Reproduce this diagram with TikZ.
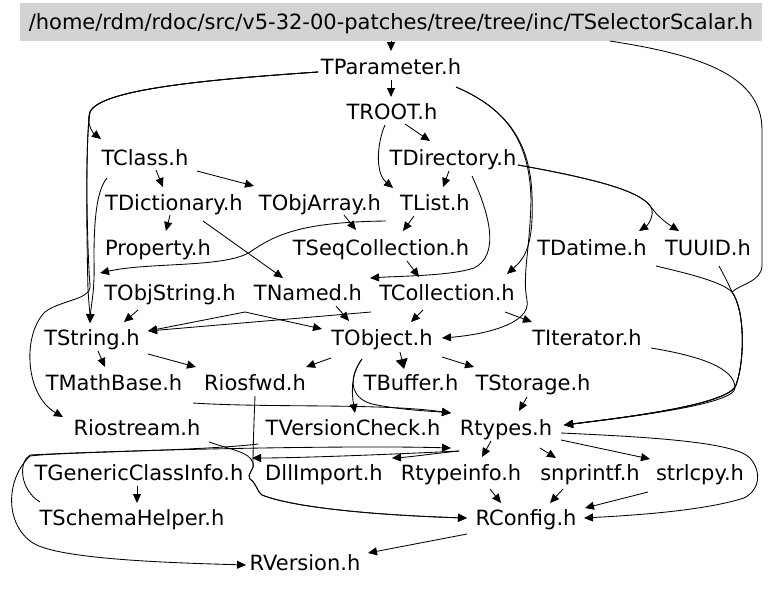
\documentclass[tikz,border=0pt]{standalone}
\usepackage{fontspec}
\setmainfont{DejaVu Sans}
\usetikzlibrary{arrows.meta}
\definecolor{hdrgray}{RGB}{211,211,211}
\begin{document}
\begin{tikzpicture}[x=1pt,y=-1pt,
  font=\fontsize{21}{24}\selectfont,
  lbl/.style={inner sep=0pt, text height=15pt, text depth=0pt},
  edge/.style={draw, line width=0.85pt, -{Triangle[length=9pt,width=8pt]}},
  bigedge/.style={draw, line width=0.85pt, -{Triangle[length=10pt,width=12pt]}},
  plain/.style={draw, line width=0.85pt}]
\fill[white] (0,0) rectangle (768,590);
\useasboundingbox (0,0) rectangle (768,590);
% nodes
\node[lbl, fill=hdrgray, minimum width=742pt, minimum height=38pt] (title) at (391,22) {/home/rdm/rdoc/src/v5-32-00-patches/tree/tree/inc/TSelectorScalar.h};
\node[lbl] (tparam) at (391,67) {TParameter.h};
\node[lbl] (troot) at (392,112) {TROOT.h};
\node[lbl] (tdir) at (453,158) {TDirectory.h};
\node[lbl] (tclass) at (145,158) {TClass.h};
\node[lbl] (tdict) at (174,203) {TDictionary.h};
\node[lbl] (tobjarray) at (320,203) {TObjArray.h};
\node[lbl] (tlist) at (435,203) {TList.h};
\node[lbl] (property) at (158,248) {Property.h};
\node[lbl] (tseq) at (381,248) {TSeqCollection.h};
\node[lbl] (tdatime) at (592,248) {TDatime.h};
\node[lbl] (tuuid) at (708,248) {TUUID.h};
\node[lbl] (tobjstring) at (170,293) {TObjString.h};
\node[lbl] (tnamed) at (308,293) {TNamed.h};
\node[lbl] (tcoll) at (447,293) {TCollection.h};
\node[lbl] (tstring) at (92,338) {TString.h};
\node[lbl] (tobject) at (382,338) {TObject.h};
\node[lbl] (titer) at (587,338) {TIterator.h};
\node[lbl] (tmath) at (114,383) {TMathBase.h};
\node[lbl] (riosfwd) at (255,383) {Riosfwd.h};
\node[lbl] (tbuffer) at (411,383) {TBuffer.h};
\node[lbl] (tstorage) at (533,383) {TStorage.h};
\node[lbl] (riostream) at (137,428) {Riostream.h};
\node[lbl] (tvc) at (353,428) {TVersionCheck.h};
\node[lbl] (rtypes) at (506,428) {Rtypes.h};
\node[lbl] (tgci) at (139,473) {TGenericClassInfo.h};
\node[lbl] (dllimport) at (324,473) {DllImport.h};
\node[lbl] (rtypeinfo) at (461,473) {Rtypeinfo.h};
\node[lbl] (snprintf) at (590,473) {snprintf.h};
\node[lbl] (strlcpy) at (700,473) {strlcpy.h};
\node[lbl] (tsh) at (132,518) {TSchemaHelper.h};
\node[lbl] (rconfig) at (526,518) {RConfig.h};
\node[lbl] (rversion) at (305,563) {RVersion.h};
% edges
\draw[edge] ([shift={(0,19)}]title.center) -- ([shift={(0,-16)}]tparam.center);
\draw[edge] ([shift={(0,13)}]tparam.center) -- ([shift={(-1,-15)}]troot.center);
\draw[edge] ([shift={(13,12)}]troot.center) -- ([shift={(-23,-17)}]tdir.center);
\draw[edge] ([shift={(-7,13)}]troot.center) .. controls (378,140) and (374,172) .. ([shift={(-42,-15)}]tlist.center);
\draw[edge] ([shift={(-4,13)}]tdir.center) -- ([shift={(8,-16)}]tlist.center);
\draw[edge] ([shift={(19,18)}]tdir.center) .. controls (490,215) and (500,255) .. (474,268) .. controls (450,276) and (400,276) .. ([shift={(62,-15)}]tnamed.center);
\draw[edge] ([shift={(65,7)}]tdir.center) .. controls (590,178) and (640,190) .. (651,207) .. controls (655,215) and (648,225) .. ([shift={(47,-17)}]tdatime.center);
\draw[edge] ([shift={(65,7)}]tdir.center) .. controls (590,178) and (640,190) .. (651,207) .. controls (658,217) and (668,224) .. ([shift={(-29,-17)}]tuuid.center);
\draw[edge] ([shift={(65,20)}]tparam.center) .. controls (505,108) and (530,140) .. (532,195) .. controls (534,245) and (525,258) .. ([shift={(60,-19)}]tcoll.center);
\draw[edge] ([shift={(65,20)}]tparam.center) .. controls (505,108) and (530,140) .. (531,200) .. controls (530,250) and (522,275) .. (527,300) .. controls (532,325) and (480,335) .. ([shift={(60,0)}]tobject.center);
\draw[edge] ([shift={(-73,5)}]tparam.center) .. controls (200,80) and (100,90) .. (90,112) .. controls (86,122) and (92,132) .. ([shift={(-44,-19)}]tclass.center);
\draw[edge] ([shift={(-73,5)}]tparam.center) .. controls (200,80) and (100,90) .. (90,112) .. controls (85,140) and (87,250) .. (88,290) .. controls (89,305) and (90,315) .. ([shift={(-2,-15)}]tstring.center);
\draw[edge] ([shift={(-73,5)}]tparam.center) .. controls (200,80) and (100,90) .. (90,112) .. controls (85,140) and (87,250) .. (90,285) .. controls (92,300) and (60,300) .. (45,312) .. controls (22,335) and (25,395) .. ([shift={(-74,-11)}]riostream.center);
\draw[edge] ([shift={(-38,20)}]tclass.center) .. controls (95,192) and (94,230) .. (94,260) .. controls (95,290) and (91,305) .. ([shift={(-2,-15)}]tstring.center);
\draw[edge] ([shift={(-49,18)}]tlist.center) .. controls (300,222) and (275,235) .. (250,252) .. controls (225,268) and (150,262) .. ([shift={(-70,-20)}]tobjstring.center);
\draw[edge] ([shift={(11,12)}]tclass.center) -- ([shift={(-11,-16)}]tdict.center);
\draw[edge] ([shift={(52,13)}]tclass.center) -- ([shift={(-66,-17)}]tobjarray.center);
\draw[edge] ([shift={(-4,12)}]tdict.center) -- ([shift={(8,-17)}]property.center);
\draw[edge] ([shift={(29,18)}]tdict.center) -- ([shift={(-25,-15)}]tnamed.center);
\draw[edge] ([shift={(24,12)}]tobjarray.center) -- ([shift={(-25,-18)}]tseq.center);
\draw[edge] ([shift={(-21,13)}]tlist.center) -- ([shift={(22,-17)}]tseq.center);
\draw[edge] ([shift={(26,13)}]tseq.center) -- ([shift={(-28,-16)}]tcoll.center);
\draw[edge] ([shift={(-24,17)}]tcoll.center) -- ([shift={(29,-16)}]tobject.center);
\draw[edge] ([shift={(58,19)}]tcoll.center) -- ([shift={(-55,-16)}]titer.center);
\draw[edge] ([shift={(-76,19)}]tcoll.center) -- ([shift={(56,-7)}]tstring.center);
\draw[edge] ([shift={(-63,19)}]tnamed.center) -- ([shift={(56,-7)}]tstring.center);
\draw[edge] ([shift={(75,19)}]tobjstring.center) -- ([shift={(-60,-9)}]tobject.center);
\draw[edge] ([shift={(28,13)}]tnamed.center) -- ([shift={(-33,-17)}]tobject.center);
\draw[edge] ([shift={(-32,17)}]tobjstring.center) -- ([shift={(32,-16)}]tstring.center);
\draw[edge] ([shift={(6,13)}]tstring.center) -- ([shift={(-9,-16)}]tmath.center);
\draw[edge] ([shift={(56,16)}]tstring.center) -- ([shift={(-59,-16)}]riosfwd.center);
\draw[edge] ([shift={(-51,20)}]tobject.center) -- ([shift={(51,-16)}]riosfwd.center);
\draw[bigedge] ([shift={(18,14)}]tobject.center) -- ([shift={(-7,-14)}]tbuffer.center);
\draw[edge] ([shift={(60,19)}]tobject.center) -- ([shift={(-59,-16)}]tstorage.center);
\draw[edge] ([shift={(-20,21)}]tobject.center) .. controls (350,375) and (352,395) .. ([shift={(2,-15)}]tvc.center);
\draw[edge] ([shift={(-20,21)}]tobject.center) .. controls (348,378) and (350,398) .. (372,404) .. controls (400,410) and (430,411) .. ([shift={(-55,-15)}]rtypes.center);
\draw[edge] ([shift={(79,20)}]tmath.center) .. controls (270,408) and (380,403) .. ([shift={(-55,-15)}]rtypes.center);
\draw[edge] ([shift={(-6,14)}]tstorage.center) -- ([shift={(13,-17)}]rtypes.center);
\draw[edge] ([shift={(64,10)}]titer.center) .. controls (700,356) and (735,368) .. (735,388) .. controls (735,405) and (620,418) .. ([shift={(58,-3)}]rtypes.center);
\draw[edge] ([shift={(219,19)}]title.center) .. controls (700,55) and (762,75) .. (762,130) -- (762,265) .. controls (762,282) and (740,284) .. (732,292) .. controls (745,310) and (745,360) .. (736,385) .. controls (730,405) and (620,418) .. ([shift={(58,-3)}]rtypes.center);
\draw[edge] ([shift={(64,18)}]tdatime.center) .. controls (690,274) and (722,282) .. (732,292) .. controls (745,310) and (745,360) .. (736,385) .. controls (730,405) and (620,418) .. ([shift={(58,-3)}]rtypes.center);
\draw[edge] ([shift={(11,18)}]tuuid.center) .. controls (724,275) and (729,285) .. (732,292) .. controls (745,310) and (745,360) .. (736,385) .. controls (730,405) and (620,418) .. ([shift={(58,-3)}]rtypes.center);
\draw[edge] ([shift={(-47,23)}]rtypes.center) .. controls (400,454) and (300,458) .. ([shift={(113,-15)}]tgci.center);
\draw[edge] ([shift={(-47,23)}]rtypes.center) .. controls (430,454) and (410,457) .. ([shift={(68,-15)}]dllimport.center);
\draw[edge] ([shift={(-92,-16)}]tsh.center) .. controls (20,490) and (18,462) .. (30,455) .. controls (120,450) and (350,445) .. ([shift={(-55,20)}]rtypes.center);
\draw[edge] ([shift={(-95,16)}]tvc.center) .. controls (200,451) and (60,452) .. (30,456) .. controls (5,480) and (5,525) .. (33,543) .. controls (60,560) and (180,563) .. ([shift={(-59,2)}]rversion.center);
\draw[edge] ([shift={(72,14)}]riostream.center) .. controls (232,450) and (250,452) .. (253,463) .. controls (255,470) and (246,474) .. (250,479) .. controls (257,484) and (256,490) .. (262,495) .. controls (300,510) and (400,516) .. ([shift={(-59,0)}]rconfig.center);
\draw[edge] ([shift={(0,13)}]riosfwd.center) .. controls (254,420) and (253,450) .. (253,463) .. controls (255,470) and (246,474) .. (250,479) .. controls (257,484) and (256,490) .. (262,495) .. controls (300,510) and (400,516) .. ([shift={(-59,0)}]rconfig.center);
\draw[edge] ([shift={(-15,13)}]rtypes.center) -- ([shift={(21,-16)}]rtypeinfo.center);
\draw[edge] ([shift={(34,20)}]rtypes.center) -- ([shift={(-34,-15)}]snprintf.center);
\draw[edge] ([shift={(55,12)}]rtypes.center) -- ([shift={(-50,-14)}]strlcpy.center);
\draw[edge] ([shift={(55,5)}]rtypes.center) .. controls (650,437) and (735,442) .. (750,458) .. controls (762,472) and (760,490) .. (744,498) .. controls (700,512) and (620,516) .. ([shift={(58,0)}]rconfig.center);
\draw[edge] ([shift={(29,16)}]rtypeinfo.center) -- ([shift={(-25,-15)}]rconfig.center);
\draw[edge] ([shift={(-27,16)}]snprintf.center) -- ([shift={(24,-15)}]rconfig.center);
\draw[edge] ([shift={(-52,19)}]strlcpy.center) -- ([shift={(59,-10)}]rconfig.center);
\draw[edge] ([shift={(-59,16)}]rconfig.center) -- ([shift={(63,-10)}]rversion.center);
\draw[edge] ([shift={(-2,13)}]tgci.center) -- ([shift={(5,-15)}]tsh.center);
\end{tikzpicture}
\end{document}
